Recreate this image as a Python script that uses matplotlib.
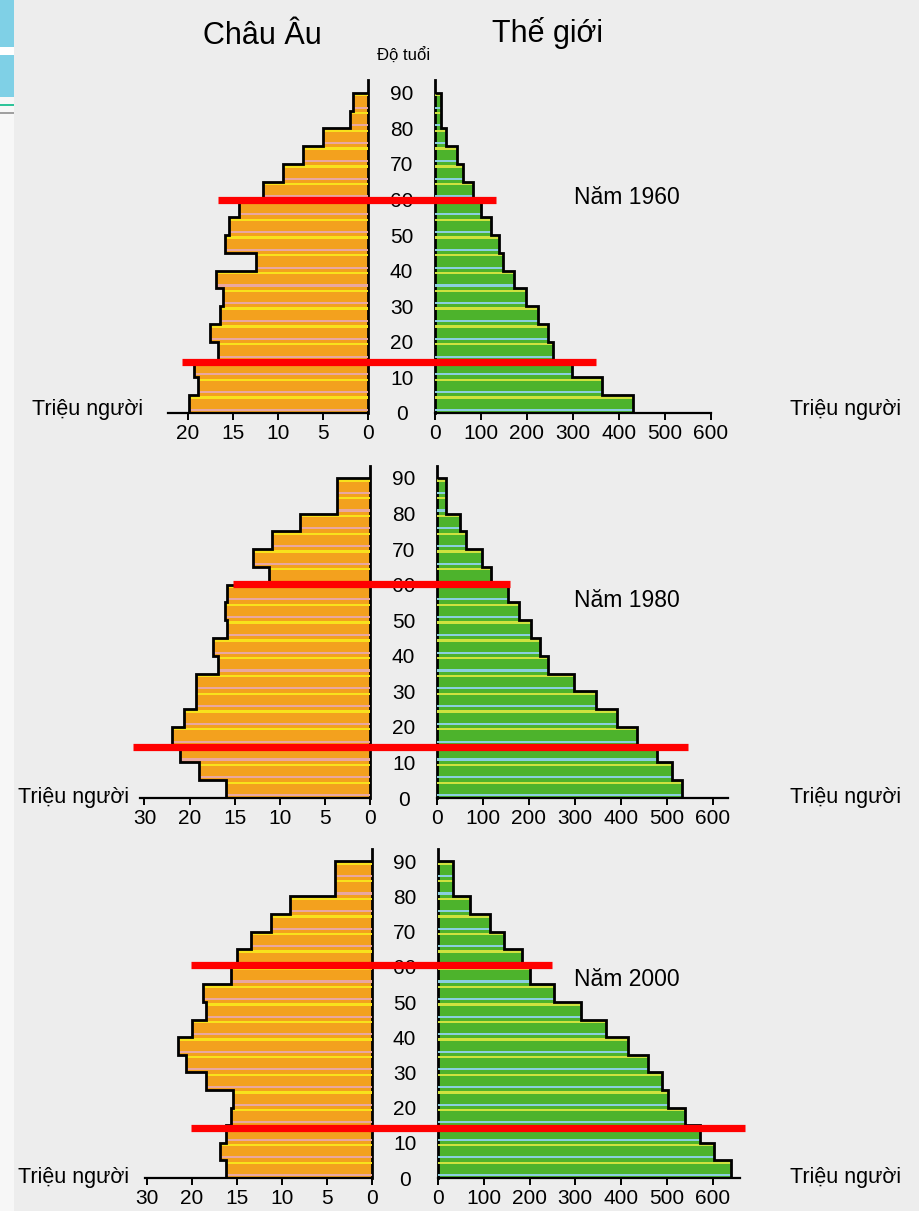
import matplotlib
matplotlib.use('Agg')
import matplotlib.pyplot as plt
from matplotlib import font_manager as fm
from matplotlib.patches import Rectangle
import numpy as np

# ---------------- data ----------------
age_edges = list(range(0, 95, 5))          # 0,5,...,90  (18 age groups)
age_ticks = list(range(0, 91, 10))

years = ['1960', '1980', '2000']

# Europe (million people), age groups 0-4 ... 85-89
eu_1960 = [19.9, 18.9, 19.3, 16.6, 17.5, 16.4, 16.1, 16.9, 12.4, 15.9, 15.4, 14.3, 11.6, 9.4, 7.2, 5.0, 2.0, 1.7]
eu_1980 = [16.0, 18.9, 21.1, 22.0, 20.6, 19.3, 19.3, 16.9, 17.4, 15.9, 16.1, 15.9, 11.2, 13.0, 10.9, 7.8, 3.7, 3.7]
eu_2000 = [16.2, 16.9, 16.2, 15.7, 15.4, 18.4, 20.7, 21.5, 20.0, 18.4, 18.8, 15.7, 15.0, 13.4, 11.2, 9.1, 4.1, 4.1]

# World (million people)
world_1960 = [431, 364, 297, 256, 245, 225, 199, 172, 149, 139, 122, 101, 82, 60, 47, 24, 14, 14]
world_1980 = [534, 512, 478, 436, 391, 346, 299, 241, 225, 205, 178, 154, 118, 98, 63, 51, 20, 20]
world_2000 = [640, 604, 572, 540, 502, 489, 460, 415, 367, 313, 253, 201, 183, 145, 114, 71, 33, 33]

eu_series = [eu_1960, eu_1980, eu_2000]
world_series = [world_1960, world_1980, world_2000]

eu_ticks = [[0, 5, 10, 15, 20], [0, 5, 10, 15, 20, 25], [0, 5, 10, 15, 20, 25]]
eu_ticklabels = [['0', '5', '10', '15', '20'],
                 ['0', '5', '10', '15', '20', '30'],
                 ['0', '5', '10', '15', '20', '30']]
world_ticks = [0, 100, 200, 300, 400, 500, 600]
world_ticklabels = ['0', '100', '200', '300', '400', '500', '600']

# red marker lines: (age, extent on Europe side, extent on World side)
red_ages = [[60.0, 14.3], [60.3, 14.3], [60.4, 14.3]]
red_eu_ext = [[16.7, 20.6], [15.2, 26.3], [20.1, 20.1]]
red_world_ext = [[133, 350], [159, 546], [250, 670]]

# ---------------- style ----------------
names = {f.name for f in fm.fontManager.ttflist}
base_font = 'Liberation Sans' if 'Liberation Sans' in names else 'DejaVu Sans'
narrow_font = 'Liberation Sans Narrow' if 'Liberation Sans Narrow' in names else base_font
plt.rcParams['font.family'] = [base_font, 'DejaVu Sans']

BG = '#EDEDED'
ORANGE = '#F3A11E'
O_YEL = '#F8E21C'
O_PINK = '#E9A7A0'
GREEN = '#4DB32C'
G_YEL = '#CFE23E'
G_BLUE = '#8ACFDF'

W, H = 919, 1211
fig = plt.figure(figsize=(W / 100, H / 100), dpi=100, facecolor=BG)

# left decorative strip (slide background)
fig.patches.append(Rectangle((0, 0), 14 / W, 1, transform=fig.transFigure,
                             facecolor='#F7F7F7', edgecolor='none', zorder=0))
fig.patches.append(Rectangle((0, 1 - 97 / H), 14 / W, 97 / H, transform=fig.transFigure,
                             facecolor='#7FD0E6', edgecolor='none', zorder=0))
fig.patches.append(Rectangle((0, 1 - 55 / H), 14 / W, 8 / H, transform=fig.transFigure,
                             facecolor='white', edgecolor='none', zorder=0))
fig.patches.append(Rectangle((0, 1 - 106 / H), 14 / W, 2 / H, transform=fig.transFigure,
                             facecolor='#2FC49A', edgecolor='none', zorder=0))
fig.patches.append(Rectangle((0, 1 - 114 / H), 14 / W, 2 / H, transform=fig.transFigure,
                             facecolor='#A0A0A0', edgecolor='none', zorder=0))

layout = [
    dict(eu=[0.1828, 0.6590, 0.2176, 0.2746], w=[0.4733, 0.6590, 0.3003, 0.2746], eux=22.2, wx=600),
    dict(eu=[0.1523, 0.3410, 0.2503, 0.2746], w=[0.4755, 0.3410, 0.3166, 0.2746], eux=25.5, wx=633),
    dict(eu=[0.1578, 0.02725, 0.2470, 0.2717], w=[0.4766, 0.02725, 0.3286, 0.2717], eux=25.2, wx=660),
]
YTOP = 93.5
bottoms = np.array(age_edges[:-1])


def draw_pyramid(ax, vals, face, stripe_top, stripe_bot):
    ax.barh(bottoms, vals, height=5, align='edge', color=face, linewidth=0, zorder=2)
    ax.barh(bottoms + 4.0, vals, height=0.65, align='edge', color=stripe_top, linewidth=0, zorder=3)
    ax.barh(bottoms + 0.55, vals, height=0.6, align='edge', color=stripe_bot, linewidth=0, zorder=3)
    ax.stairs(vals, age_edges, orientation='horizontal', baseline=0, fill=False,
              color='black', linewidth=2.0, zorder=4)


for i in range(3):
    L = layout[i]
    # Europe
    ae = fig.add_axes(L['eu'])
    ae.set_facecolor('none')
    draw_pyramid(ae, eu_series[i], ORANGE, O_YEL, O_PINK)
    ae.set_xlim(L['eux'], 0)
    ae.set_ylim(0, YTOP)
    for s in ['top', 'left']:
        ae.spines[s].set_visible(False)
    ae.spines['right'].set_linewidth(2.0)
    ae.spines['bottom'].set_linewidth(1.6)
    ae.set_yticks([])
    ae.set_xticks(eu_ticks[i])
    ae.set_xticklabels(eu_ticklabels[i], fontsize=15, family=[narrow_font, 'DejaVu Sans'])
    ae.tick_params(axis='x', direction='out', length=5, width=1.4, pad=3)

    # World
    aw = fig.add_axes(L['w'])
    aw.set_facecolor('none')
    draw_pyramid(aw, world_series[i], GREEN, G_YEL, G_BLUE)
    aw.set_xlim(0, L['wx'])
    aw.set_ylim(0, YTOP)
    for s in ['top', 'right']:
        aw.spines[s].set_visible(False)
    aw.spines['left'].set_linewidth(2.0)
    aw.spines['bottom'].set_linewidth(1.6)
    aw.set_xticks(world_ticks)
    aw.set_xticklabels(world_ticklabels, fontsize=15, family=[narrow_font, 'DejaVu Sans'])
    aw.tick_params(axis='x', direction='out', length=5, width=1.4, pad=3)
    aw.set_yticks(age_ticks)
    aw.set_yticklabels([str(a) for a in age_ticks], fontsize=15, family=[narrow_font, 'DejaVu Sans'])
    aw.tick_params(axis='y', length=0, pad=24)
    for lbl in aw.get_yticklabels():
        lbl.set_horizontalalignment('center')

    # red lines
    for a, ee, we in zip(red_ages[i], red_eu_ext[i], red_world_ext[i]):
        ae.plot([ee, 0], [a, a], color='#FF0000', linewidth=5.2, solid_capstyle='butt',
                zorder=10, clip_on=False)
        aw.plot([-150, we], [a, a], color='#FF0000', linewidth=5.2, solid_capstyle='butt',
                zorder=10, clip_on=False)


def ftext(x, y, s, **kw):
    fig.text(x / W, 1 - y / H, s, **kw)


ftext(262, 36, 'Châu Âu', fontsize=22, ha='center', va='center')
ftext(548, 33, 'Thế giới', fontsize=22, ha='center', va='center')
ftext(404, 56, 'Độ tuổi', fontsize=12, ha='center', va='center')

ftext(627, 198, 'Năm 1960', fontsize=16.5, ha='center', va='center')
ftext(627, 601, 'Năm 1980', fontsize=16.5, ha='center', va='center')
ftext(627, 979, 'Năm 2000', fontsize=16.5, ha='center', va='center')

for (xl, yl), (xr, yr) in zip([(32, 409), (18, 797), (18, 1178)],
                              [(790, 410), (790, 797), (790, 1177)]):
    ftext(xl, yl, 'Triệu người', fontsize=15.5, ha='left', va='center')
    ftext(xr, yr, 'Triệu người', fontsize=15.5, ha='left', va='center')

fig.savefig('out.png', dpi=100, facecolor=BG)
